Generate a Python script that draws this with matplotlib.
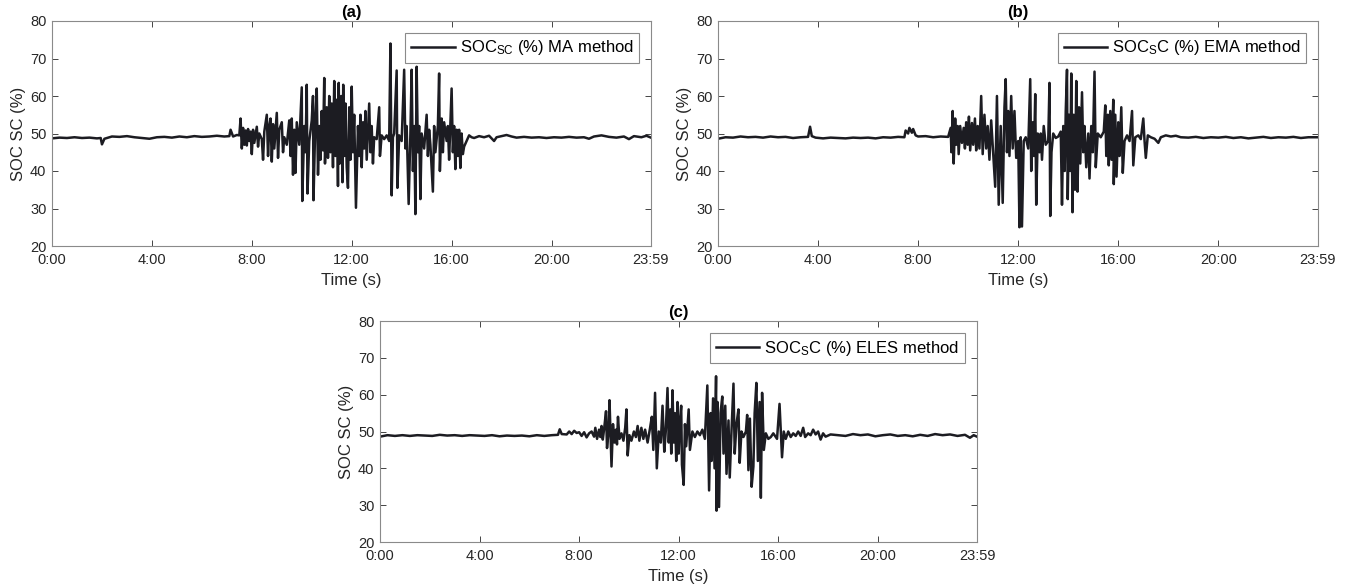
import numpy as np
import matplotlib.pyplot as plt

plt.rcParams['font.family'] = ['Liberation Sans', 'DejaVu Sans']
plt.rcParams['mathtext.fontset'] = 'custom'
plt.rcParams['mathtext.rm'] = 'Liberation Sans'
plt.rcParams['mathtext.it'] = 'Liberation Sans'

# time in hours, SOC in %
t_a = [0, 0.3, 0.6, 0.9, 1.2, 1.5, 1.8, 1.95, 2.0, 2.1, 2.4, 2.7, 3.0, 3.3, 3.6, 3.9, 4.2, 4.5, 4.8, 5.1,
       5.4, 5.7, 6.0, 6.3, 6.6, 6.9, 7.1, 7.15, 7.25, 7.4,
       7.5, 7.55, 7.6, 7.65, 7.7, 7.75, 7.8, 7.85, 7.9, 7.95, 8.0, 8.05, 8.1, 8.2, 8.25, 8.3, 8.4, 8.45, 8.5, 8.6,
       8.65, 8.7, 8.75, 8.8, 8.85, 8.9, 9.0, 9.05, 9.1, 9.2, 9.25, 9.3, 9.4, 9.5, 9.55, 9.6, 9.65, 9.7, 9.75, 9.8,
       9.9, 10.0, 10.02, 10.1, 10.15, 10.2, 10.23, 10.3, 10.4, 10.45, 10.47, 10.55, 10.6, 10.65, 10.7, 10.75, 10.8,
       10.85, 10.9, 10.93, 11.0, 11.05, 11.1, 11.15, 11.2, 11.25, 11.3, 11.35, 11.4, 11.45, 11.48, 11.52, 11.58,
       11.63, 11.66, 11.7, 11.75, 11.8, 11.85, 11.9, 11.95, 12.0, 12.05, 12.1, 12.17, 12.25, 12.3, 12.35, 12.4,
       12.45, 12.5, 12.55, 12.6, 12.7, 12.75, 12.8, 12.85, 12.9, 13.0, 13.1, 13.13, 13.2, 13.3, 13.4, 13.5, 13.55,
       13.6, 13.65, 13.7, 13.8, 13.83, 13.9, 14.0, 14.1, 14.15, 14.2, 14.28, 14.35, 14.4, 14.45, 14.5, 14.55, 14.6,
       14.65, 14.7, 14.75, 14.8, 14.9, 15.0, 15.05, 15.1, 15.15, 15.25, 15.3, 15.35, 15.45, 15.5, 15.53, 15.6,
       15.65, 15.7, 15.8, 15.85, 15.9, 16.0, 16.05, 16.1, 16.15, 16.2, 16.25, 16.3, 16.35, 16.4, 16.45, 16.5, 16.6,
       16.7, 16.8,
       16.9, 17.1, 17.3, 17.5, 17.7, 17.8, 18.0, 18.2, 18.4, 18.6, 18.9, 19.2, 19.5, 19.8, 20.1, 20.4, 20.7, 21.0,
       21.3, 21.5, 21.7, 22.0, 22.3, 22.6, 22.9, 23.1, 23.3, 23.6, 23.8, 23.98]
soc_a = [48.7, 48.9, 48.8, 49.0, 48.8, 48.9, 48.7, 48.8, 47.1, 48.6, 49.2, 49.1, 49.3, 49.0, 48.8, 48.6, 49.0, 49.1,
         48.9, 49.2, 49.0, 49.3, 49.1, 49.2, 49.4, 49.2, 49.3, 51.0, 49.2, 49.6,
         49.5, 54.0, 46.0, 51.5, 47.0, 50.8, 46.8, 51.2, 48.0, 50.5, 44.5, 51.0, 47.5, 51.8, 46.5, 50.0, 48.5, 43.0,
         50.5, 55.0, 44.0, 52.0, 54.0, 42.5, 52.5, 46.0, 55.5, 43.5, 51.0, 53.0, 45.0, 49.0, 47.0, 53.5, 44.0, 54.0,
         39.0, 51.0, 39.5, 53.0, 47.0, 62.3, 32.0, 52.0, 45.0, 63.0, 34.0, 48.0, 53.5, 60.0, 32.2, 55.0, 62.0, 39.0,
         52.0, 43.0, 56.0, 45.5, 64.8, 42.0, 57.0, 43.5, 60.0, 45.0, 58.0, 41.0, 64.0, 44.0, 59.0, 36.0, 63.5, 42.0,
         60.0, 37.0, 63.0, 44.0, 58.0, 41.0, 35.5, 57.0, 43.0, 62.5, 45.0, 55.0, 30.2, 52.0, 44.0, 55.0, 41.0, 53.0,
         46.0, 56.0, 43.0, 58.0, 45.0, 52.0, 42.0, 49.0, 48.5, 57.0, 44.0, 49.5, 48.5, 49.5, 48.0, 74.0, 33.5, 49.0,
         50.0, 66.8, 35.5, 49.5, 48.0, 67.0, 46.0, 52.0, 31.2, 50.0, 67.0, 40.0, 52.0, 28.5, 67.8, 45.0, 52.0, 32.5,
         50.0, 46.0, 55.0, 44.0, 51.0, 47.0, 34.5, 52.0, 45.0, 52.0, 66.0, 40.0, 54.0, 45.0, 53.0, 48.0, 52.0, 43.0,
         62.0, 45.0, 52.0, 40.5, 51.0, 44.0, 51.0, 40.8, 50.0, 44.5, 46.5, 48.0, 49.5, 49.0,
         48.8, 49.3, 49.0, 49.4, 48.0, 49.0, 49.3, 49.6, 49.2, 48.9, 49.1, 48.9, 49.0, 48.8, 49.0, 48.9, 49.1, 48.9,
         49.0, 48.6, 49.2, 49.5, 49.1, 48.9, 49.2, 48.5, 49.3, 49.0, 49.4, 48.9]

t_b = [0, 0.3, 0.6, 0.9, 1.2, 1.5, 1.8, 2.1, 2.4, 2.7, 3.0, 3.3, 3.6, 3.68, 3.75, 3.9, 4.2, 4.5, 4.8, 5.1, 5.4,
       5.7, 6.0, 6.3, 6.6, 6.9, 7.2, 7.45, 7.5, 7.6, 7.65, 7.75, 7.8, 7.9, 8.0, 8.3, 8.6, 8.9, 9.2,
       9.3, 9.33, 9.38, 9.42, 9.48, 9.52, 9.58, 9.62, 9.68, 9.75, 9.82, 9.87, 9.92, 9.98, 10.03, 10.08, 10.15, 10.2,
       10.27, 10.32, 10.38, 10.45, 10.52, 10.58, 10.65, 10.72, 10.78, 10.85, 10.92, 10.98, 11.08, 11.15, 11.22,
       11.3, 11.38, 11.45, 11.5, 11.55, 11.6, 11.65, 11.72, 11.78, 11.85, 11.92, 12.0, 12.05, 12.1, 12.15, 12.22,
       12.3, 12.4, 12.48, 12.52, 12.58, 12.63, 12.68, 12.72, 12.78, 12.85, 12.9, 12.95, 13.02, 13.1, 13.2, 13.25,
       13.28, 13.33, 13.4, 13.5, 13.6, 13.7, 13.75, 13.8, 13.86, 13.9, 13.95, 13.98, 14.03, 14.08, 14.12, 14.17,
       14.22, 14.27, 14.32, 14.37, 14.43, 14.48, 14.55, 14.6, 14.65, 14.72, 14.8, 14.85, 14.92, 14.98, 15.05,
       15.1, 15.18, 15.3, 15.42, 15.48, 15.52, 15.58, 15.62, 15.68, 15.73, 15.8, 15.82, 15.88, 15.93, 16.0, 16.05,
       16.12, 16.18, 16.25, 16.35, 16.45, 16.55, 16.6, 16.68, 16.8, 16.9, 17.0, 17.05, 17.1, 17.18, 17.3,
       17.45, 17.6, 17.7, 17.9, 18.1, 18.3, 18.5, 18.8, 19.1, 19.4, 19.7, 20.0, 20.3, 20.6, 20.9, 21.2, 21.5,
       21.8, 22.1, 22.4, 22.7, 23.0, 23.3, 23.6, 23.98]
soc_b = [48.6, 49.0, 48.9, 49.2, 49.0, 49.1, 48.9, 49.2, 49.0, 49.1, 48.8, 49.0, 49.1, 51.8, 49.3, 48.9, 48.7,
         48.9, 48.8, 48.7, 48.9, 48.8, 48.9, 48.7, 49.0, 48.9, 49.1, 49.0, 50.8, 50.0, 51.5, 50.2, 51.2, 49.5,
         49.2, 49.3, 49.0, 49.2, 49.1,
         51.5, 45.0, 56.0, 42.0, 54.0, 47.0, 52.0, 44.5, 52.0, 47.5, 51.5, 46.0, 53.0, 47.0, 54.5, 45.5, 52.8, 47.0,
         54.0, 45.5, 52.0, 46.0, 60.0, 44.5, 55.0, 46.0, 52.0, 43.0, 53.5, 47.0, 35.8, 60.0, 31.0, 52.0, 31.5, 57.0,
         64.5, 45.0, 56.0, 44.0, 60.0, 46.0, 56.0, 43.5, 48.0, 25.0, 49.0, 25.2, 48.0, 49.0, 46.0, 64.5, 40.0, 53.0,
         44.0, 60.5, 31.0, 50.0, 45.0, 50.0, 43.0, 52.0, 47.0, 48.0, 63.5, 28.0, 45.0, 50.0, 48.8, 49.2, 50.5, 31.0,
         52.0, 40.0, 56.0, 67.0, 32.5, 55.0, 40.0, 66.0, 29.0, 55.0, 35.0, 64.0, 34.5, 57.0, 42.0, 61.0, 45.0, 52.0,
         41.0, 50.0, 38.0, 52.0, 45.0, 66.5, 41.0, 50.0, 49.0, 50.5, 57.5, 44.0, 55.0, 41.5, 56.0, 43.0, 59.0, 36.5,
         55.0, 38.5, 53.0, 44.0, 57.0, 39.5, 48.0, 49.5, 48.0, 56.0, 41.5, 49.0, 49.5, 48.5, 54.0, 48.0, 43.5, 49.5,
         49.0,
         48.6, 47.5, 49.0, 49.5, 49.2, 49.4, 49.0, 48.9, 49.1, 48.8, 49.0, 48.9, 49.1, 48.8, 49.0, 48.7, 48.9, 49.1,
         48.8, 49.0, 48.9, 49.1, 48.8, 49.0, 49.0]

t_c = [0, 0.3, 0.6, 0.9, 1.2, 1.5, 1.8, 2.1, 2.4, 2.7, 3.0, 3.3, 3.6, 3.9, 4.2, 4.5, 4.8, 5.1, 5.4, 5.7, 6.0,
       6.3, 6.6, 6.9, 7.15, 7.22, 7.3, 7.5, 7.6, 7.7, 7.8, 7.9, 8.0, 8.1, 8.2, 8.3, 8.4, 8.5, 8.6, 8.65, 8.72,
       8.8, 8.85, 8.9, 8.95, 9.0,
       9.08, 9.12, 9.18, 9.22, 9.3, 9.36, 9.42, 9.48, 9.52, 9.56, 9.62, 9.7, 9.78, 9.85, 9.9, 9.95, 10.02, 10.1,
       10.2, 10.28, 10.35, 10.42, 10.5, 10.58, 10.65, 10.75, 10.85, 10.92, 10.98, 11.05, 11.12, 11.2, 11.28, 11.35,
       11.42, 11.48, 11.55, 11.6, 11.66, 11.7, 11.75, 11.8, 11.85, 11.9, 11.95, 12.0, 12.05, 12.1, 12.13, 12.2,
       12.25, 12.3, 12.4, 12.45, 12.55, 12.65, 12.75, 12.85, 12.95, 13.05, 13.15, 13.22, 13.28, 13.32, 13.38,
       13.44, 13.5, 13.52, 13.56, 13.62, 13.68, 13.75, 13.8, 13.87, 13.92, 14.0, 14.05, 14.12, 14.2, 14.25, 14.32,
       14.4, 14.45, 14.52, 14.6, 14.7, 14.75, 14.8, 14.86, 14.93, 15.0, 15.05, 15.12, 15.18, 15.25, 15.3, 15.35,
       15.42, 15.5, 15.6, 15.7, 15.8, 15.95, 16.05, 16.15, 16.22, 16.3,
       16.4, 16.5, 16.6, 16.7, 16.8, 16.9, 17.0, 17.08, 17.2, 17.3, 17.4, 17.5, 17.6, 17.7, 17.8, 17.9, 18.1,
       18.4, 18.7, 19.0, 19.3, 19.6, 19.9, 20.2, 20.5, 20.8, 21.1, 21.4, 21.7, 22.0, 22.3, 22.6, 22.9, 23.2,
       23.5, 23.7, 23.85, 23.98]
soc_c = [48.6, 49.0, 48.8, 49.0, 48.8, 49.0, 48.9, 48.8, 49.1, 48.9, 49.0, 48.8, 49.0, 48.9, 48.8, 49.0, 48.7,
         48.9, 48.8, 48.9, 48.7, 49.0, 48.8, 49.0, 49.1, 50.6, 49.3, 49.2, 50.0, 49.3, 50.2, 49.6, 49.8, 48.8,
         49.8, 48.4, 49.5, 50.0, 48.6, 51.0, 48.0, 50.5, 48.5, 51.5, 47.8, 50.5,
         55.5, 45.5, 50.0, 58.5, 40.5, 52.0, 47.0, 50.5, 46.5, 54.0, 48.0, 49.5, 47.5, 51.0, 56.0, 43.5, 49.0, 47.5,
         50.0, 48.5, 51.5, 47.5, 51.0, 48.0, 50.5, 47.0, 51.0, 54.0, 45.0, 60.5, 40.0, 50.0, 47.0, 57.0, 44.5, 50.0,
         61.8, 47.0, 56.0, 44.0, 61.2, 47.0, 55.0, 42.0, 58.0, 44.0, 53.0, 57.0, 41.0, 35.5, 52.0, 46.0, 56.0, 45.0,
         50.0, 48.5, 50.0, 49.0, 50.5, 48.0, 62.5, 34.0, 55.0, 42.0, 59.0, 40.0, 65.0, 28.5, 58.0, 29.5, 55.0, 59.5,
         44.0, 57.0, 38.5, 53.0, 37.5, 50.0, 63.0, 44.0, 52.0, 56.0, 41.5, 50.0, 48.5, 50.0, 54.5, 39.5, 53.5, 35.0,
         40.5, 55.0, 63.2, 42.0, 58.0, 32.0, 60.5, 45.0, 49.5, 48.0, 48.5, 49.5, 48.0, 57.5, 43.0, 50.0, 48.0,
         50.0, 48.5, 49.5, 48.8, 50.0, 48.8, 51.0, 48.5, 49.5, 49.0, 50.5, 49.2, 50.0, 47.8, 49.5, 48.6, 49.2,
         49.0, 48.8, 49.3, 49.0, 49.2, 48.7, 49.0, 49.2, 48.8, 49.0, 48.7, 49.1, 48.8, 49.3, 49.0, 49.2, 48.8,
         49.1, 48.3, 49.0, 48.6]

tick_pos = [0, 4, 8, 12, 16, 20, 23.983]
tick_lab = ['0:00', '4:00', '8:00', '12:00', '16:00', '20:00', '23:59']

panels = [
    ('(a)', t_a, soc_a, 'SOC$_{SC}$ (%) MA method', [52, 21, 599, 225]),
    ('(b)', t_b, soc_b, 'SOC$_{S}$C (%) EMA method', [718, 21, 600, 225]),
    ('(c)', t_c, soc_c, 'SOC$_{S}$C (%) ELES method', [380, 321, 597, 221]),
]

W, H = 1346, 588
fig = plt.figure(figsize=(W / 100, H / 100), dpi=100)

for title, t, soc, lab, (x0, y0, w, h) in panels:
    ax = fig.add_axes([x0 / W, 1 - (y0 + h) / H, w / W, h / H])
    ax.plot(t, soc, color='#1c1c22', lw=1.8, label=lab)
    ax.set_xlim(0, 23.983)
    ax.set_ylim(20, 80)
    ax.set_xticks(tick_pos)
    ax.set_xticklabels(tick_lab)
    ax.set_yticks(range(20, 81, 10))
    ax.tick_params(direction='in', top=True, right=True, labelsize=10.5,
                   colors='#262626', length=4, width=0.6)
    ax.tick_params(axis='x', pad=5)
    ax.tick_params(axis='y', pad=4)
    for s in ax.spines.values():
        s.set_color('#8a8a8a')
        s.set_linewidth(0.8)
    ax.set_xlabel('Time (s)', fontsize=12, color='#262626', labelpad=4)
    ax.set_ylabel('SOC SC (%)', fontsize=12, color='#262626', labelpad=3)
    ax.set_title(title, fontsize=12, fontweight='bold', pad=3)
    leg = ax.legend(loc='upper right', fontsize=12, fancybox=False, framealpha=1,
                    edgecolor='#8a8a8a', handlelength=2.6, borderaxespad=0.7,
                    handletextpad=0.3, borderpad=0.35)
    leg.get_frame().set_linewidth(0.8)

fig.savefig('out.png', dpi=100)
